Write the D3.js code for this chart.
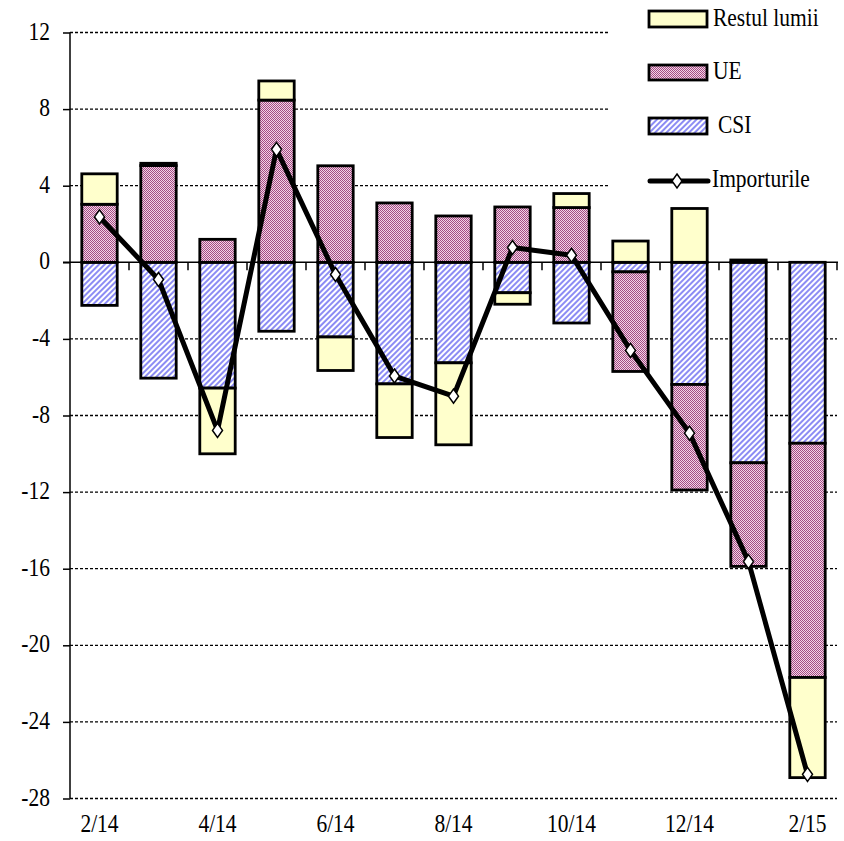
<!DOCTYPE html>
<html>
<head>
<meta charset="utf-8">
<script src="https://cdn.jsdelivr.net/npm/d3@7"></script>
<style>
  body { margin: 0; background: #fff; }
  text { font-family: "Liberation Serif", "Times New Roman", serif; fill: #000; }
</style>
</head>
<body>
<div id="chart"></div>
<script>
// months, 2/14 .. 2/15
var categories = ["2/14", "3/14", "4/14", "5/14", "6/14", "7/14", "8/14", "9/14", "10/14", "11/14", "12/14", "1/15", "2/15"];
var tickLabels = ["2/14", "4/14", "6/14", "8/14", "10/14", "12/14", "2/15"];
var yTicks = [12, 8, 4, 0, -4, -8, -12, -16, -20, -24, -28];

// contributions by region
var csi = [-2.25, -6.05, -6.57, -3.6, -3.9, -6.35, -5.25, -1.59, -3.17, -0.5, -6.38, -10.47, -9.45];
var ue = [3.03, 5.05, 1.2, 8.47, 5.04, 3.1, 2.42, 2.89, 2.86, -5.2, -5.51, -5.41, -12.23];
var restul = [1.59, 0.12, -3.43, 1.0, -1.75, -2.8, -4.28, -0.6, 0.73, 1.11, 2.81, 0.12, -5.23];
var importurile = [2.37, -0.9, -8.78, 5.9, -0.64, -5.94, -6.99, 0.77, 0.37, -4.6, -8.92, -15.63, -26.74];

var svgWidth = 844, svgHeight = 841;

var svg = d3.select("#chart").append("svg")
  .attr("width", svgWidth)
  .attr("height", svgHeight);

// fill patterns
var defs = svg.append("defs");

var ptUE = defs.append("pattern")
  .attr("id", "pUE").attr("patternUnits", "userSpaceOnUse")
  .attr("width", 2).attr("height", 2);
ptUE.append("rect").attr("width", 2).attr("height", 2).attr("fill", "#f2d4e6");
ptUE.append("rect").attr("x", 0).attr("y", 0).attr("width", 1).attr("height", 1).attr("fill", "#a44c84");
ptUE.append("rect").attr("x", 1).attr("y", 1).attr("width", 1).attr("height", 1).attr("fill", "#a44c84");

var ptCSI = defs.append("pattern")
  .attr("id", "pCSI").attr("patternUnits", "userSpaceOnUse")
  .attr("width", 4).attr("height", 4)
  .attr("patternTransform", "rotate(45)");
ptCSI.append("rect").attr("width", 4).attr("height", 4).attr("fill", "#ffffff");
ptCSI.append("rect").attr("width", 2).attr("height", 4).attr("fill", "#8c8cf4");

var fills = { CSI: "url(#pCSI)", UE: "url(#pUE)", Restul: "#ffffcc" };

var x = d3.scaleBand()
  .domain(categories)
  .range([70, 837])
  .paddingInner(0.4)
  .paddingOuter(0.2);

var y = d3.scaleLinear()
  .domain([-28, 12])
  .range([798.5, 32.5]);

var step = x.step();

// text drawn a bit taller than wide, like the original
function label(g, tx, ty, str, anchor) {
  return g.append("text")
    .attr("transform", `translate(${tx}, ${ty}) scale(1, 1.2)`)
    .attr("text-anchor", anchor || "start")
    .style("font-size", "21.5px")
    .text(str);
}

// gridlines
svg.append("g").selectAll("line")
  .data(yTicks.filter(d => d !== 0))
  .enter()
  .append("line")
  .attr("x1", 70).attr("x2", 837)
  .attr("y1", d => y(d)).attr("y2", d => y(d))
  .attr("stroke", "#000")
  .attr("stroke-width", 1.3)
  .attr("stroke-dasharray", "3,2");

// stacked bars
var rows = categories.map((c, i) => ({ cat: c, CSI: csi[i], UE: ue[i], Restul: restul[i] }));
var series = d3.stack()
  .keys(["CSI", "UE", "Restul"])
  .offset(d3.stackOffsetDiverging)(rows);

var barGroup = svg.append("g");
series.forEach(function(s) {
  barGroup.selectAll(null)
    .data(s.filter(d => d[1] !== d[0]))
    .enter()
    .append("rect")
    .attr("x", d => x(d.data.cat))
    .attr("width", x.bandwidth())
    .attr("y", d => y(Math.max(d[0], d[1])))
    .attr("height", d => Math.abs(y(d[0]) - y(d[1])))
    .attr("fill", fills[s.key])
    .attr("stroke", "#000")
    .attr("stroke-width", 2.8);
});

// y axis
var leftAxis = d3.axisLeft(y).tickValues(yTicks).tickSize(7).tickFormat("");
var yAxis = svg.append("g")
  .attr("transform", "translate(70, 0)")
  .call(leftAxis);
yAxis.select(".domain").attr("stroke-width", 1.5).attr("d", `M0,${y(12)}V${y(-28)}`);
yAxis.selectAll(".tick line").attr("stroke-width", 1.5);

yTicks.forEach(function(t) {
  label(svg, 50, y(t) + 7, String(t), "end");
});

// zero line with ticks between months
svg.append("line")
  .attr("x1", 63).attr("x2", 838)
  .attr("y1", y(0)).attr("y2", y(0))
  .attr("stroke", "#000").attr("stroke-width", 1.5);

svg.append("g").selectAll("line")
  .data(categories)
  .enter()
  .append("line")
  .attr("x1", d => x(d) + x.bandwidth() / 2 + step / 2)
  .attr("x2", d => x(d) + x.bandwidth() / 2 + step / 2)
  .attr("y1", y(0)).attr("y2", y(0) + 8)
  .attr("stroke", "#000").attr("stroke-width", 1.5);

// month labels
tickLabels.forEach(function(t) {
  label(svg, x(t) + x.bandwidth() / 2, 832, t, "middle");
});

// Importurile line
var cx = (d, i) => x(categories[i]) + x.bandwidth() / 2;
var line = d3.line()
  .x(cx)
  .y(d => y(d));

svg.append("path")
  .datum(importurile)
  .attr("d", line)
  .attr("fill", "none")
  .attr("stroke", "#000")
  .attr("stroke-width", 5)
  .attr("stroke-linejoin", "round");

function diamond(px, py) {
  return `M${px},${py - 7}L${px + 5},${py}L${px},${py + 7}L${px - 5},${py}Z`;
}

svg.append("g").selectAll("path")
  .data(importurile)
  .enter()
  .append("path")
  .attr("d", (d, i) => diamond(cx(d, i), y(d)))
  .attr("fill", "#fff")
  .attr("stroke", "#000")
  .attr("stroke-width", 1.5);

// legend
var legend = svg.append("g");
legend.append("rect")
  .attr("x", 608).attr("y", 0)
  .attr("width", 236).attr("height", 200)
  .attr("fill", "#fff");

var legendItems = [
  { key: "Restul", name: "Restul lumii", y: 11, h: 16, tx: 713, ty: 26 },
  { key: "UE", name: "UE", y: 65, h: 15, tx: 713, ty: 79 },
  { key: "CSI", name: "CSI", y: 118, h: 16, tx: 718, ty: 133 }
];

legendItems.forEach(function(d) {
  legend.append("rect")
    .attr("x", 649).attr("y", d.y)
    .attr("width", 58).attr("height", d.h)
    .attr("fill", fills[d.key])
    .attr("stroke", "#000")
    .attr("stroke-width", 2.8);
  label(legend, d.tx, d.ty, d.name);
});

legend.append("line")
  .attr("x1", 650).attr("x2", 708)
  .attr("y1", 181).attr("y2", 181)
  .attr("stroke", "#000").attr("stroke-width", 5)
  .attr("stroke-linecap", "round");
legend.append("path")
  .attr("d", diamond(677, 181))
  .attr("fill", "#fff").attr("stroke", "#000").attr("stroke-width", 1.5);
label(legend, 712, 187, "Importurile");
</script>
</body>
</html>
